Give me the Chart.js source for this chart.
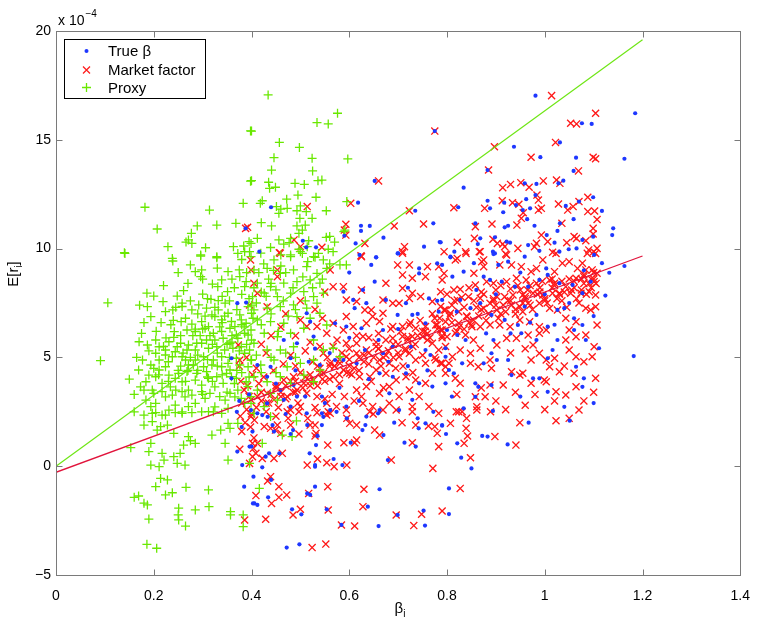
<!DOCTYPE html>
<html>
<head>
<meta charset="utf-8">
<script src="https://cdn.jsdelivr.net/npm/chart.js@4"></script>
<style>
  body { margin: 0; background: #fff; }
</style>
</head>
<body>
<canvas id="scatterChart" width="763" height="626"></canvas>
<script>
// axis ticks (y values are in units of 1e-4)
var xTicks = [0, 0.2, 0.4, 0.6, 0.8, 1, 1.2, 1.4];
var yTicks = [-5, 0, 5, 10, 15, 20];
var legendLabels = ['True \u03b2', 'Market factor', 'Proxy'];

// fitted lines [beta, E[r]]
var proxyFit = [[0, 0], [1.2, 19.6]];
var marketFit = [[0, -0.28], [1.2, 9.66]];

// True beta (blue dots)
var trueBeta = [
  [0.388,10.93],[0.775,15.4],[0.652,13.11],[0.618,12.11],[0.44,11.9],[0.735,11.74],[0.624,11.05],[0.642,11.04],[0.624,10.81],
  [0.772,11.16],[0.613,10.24],[0.753,10.09],[0.785,10.3],[0.505,10.36],[0.512,10.06],[0.532,10.06],[0.655,9.6],[0.7,9.78],[0.59,10.59],
  [0.981,17.03],[1.185,16.22],[1.076,15.76],[1.096,15.73],[1.031,14.88],[0.937,14.68],[0.991,14.2],[1.064,14.18],[1.163,14.13],
  [1.059,13.57],[0.883,13.61],[0.834,12.8],[0.959,13.0],[0.983,12.97],[1.038,13.12],[1.028,13.0],[0.883,12.2],[0.888,11.85],
  [0.917,12.11],[0.941,12.0],[0.962,12.27],[0.981,12.46],[1.099,12.36],[0.823,11.9],[0.915,11.67],[0.955,11.77],[0.97,11.85],
  [1.043,11.96],[1.117,11.73],[1.07,12.16],[0.964,11.35],[1.059,11.35],[0.858,11.16],[0.918,10.98],[0.925,11.05],[0.979,11.05],
  [1.026,10.81],[1.031,11.16],[1.14,10.93],[1.138,10.62],[1.004,10.62],[1.02,10.27],[1.077,10.4],[1.099,10.55],[1.065,10.01],
  [1.049,9.97],[0.868,10.47],[0.863,10.21],[0.898,10.52],[0.894,9.86],[0.895,9.75],[0.922,10.32],[0.929,10.27],[0.966,10.16],
  [0.989,9.9],[0.815,9.86],[0.807,9.6],[0.787,10.29],
  [0.807,9.63],[0.855,9.33],[0.898,9.78],[0.905,9.25],[0.925,9.4],[0.959,9.63],[1.003,9.09],[1.03,9.86],[1.101,9.71],[1.117,9.33],
  [1.132,8.89],[1.163,9.2],[0.79,9.25],[0.811,8.71],[0.834,8.94],[0.875,8.71],[0.888,8.56],[0.912,8.48],[0.939,8.25],[0.966,8.25],
  [0.989,8.56],[1.006,8.79],[1.03,8.41],[1.057,8.33],[1.077,7.95],[1.094,8.48],[1.124,7.84],[0.79,7.64],[0.827,7.64],[0.848,7.26],
  [0.868,7.49],[0.891,6.95],[0.918,6.72],[0.945,6.49],[0.959,7.33],[0.983,6.95],[1.006,6.41],[1.026,7.18],[1.04,7.26],[1.06,6.8],
  [1.077,6.49],[1.06,6.26],[1.084,5.8],[1.111,5.42],[1.182,5.06],[0.8,6.26],[0.797,5.42],[0.821,6.03],[0.838,5.8],[0.831,4.73],
  [0.804,4.42],[0.814,4.27],[0.875,4.73],[0.891,5.19],[0.895,5.8],[0.902,4.88],[0.925,4.88],[0.932,4.19],[0.952,6.11],[0.983,5.8],
  [1.006,4.96],[1.026,5.8],[1.016,5.34],[0.989,4.04],[0.976,4.04],[1.064,4.57],[1.08,4.04],[1.077,3.65],[1.006,3.42],[1.04,2.73],
  [0.891,3.73],[0.858,3.81],[0.858,3.19],[0.864,3.65],[0.834,2.66],
  [0.416,9.86],[0.621,9.71],[0.655,9.6],[0.645,9.25],[0.699,9.78],[0.743,9.09],[0.78,9.32],[0.743,8.86],[0.652,8.48],[0.628,8.1],
  [0.588,8.02],[0.608,7.64],[0.611,7.26],[0.635,7.49],[0.675,7.64],[0.716,7.49],[0.763,7.71],[0.783,7.1],[0.699,6.95],[0.729,6.95],
  [0.756,6.57],[0.669,6.26],[0.625,6.34],[0.594,6.42],[0.571,6.57],[0.52,6.64],[0.513,7.03],[0.527,5.96],[0.493,5.65],[0.466,5.8],
  [0.48,4.96],[0.439,4.57],[0.432,4.11],[0.412,4.65],[0.459,3.5],[0.486,3.73],[0.517,4.8],[0.54,4.65],[0.588,4.88],[0.571,4.88],
  [0.615,4.73],[0.632,5.34],[0.669,5.19],[0.689,5.49],[0.726,5.49],[0.756,5.34],[0.766,5.11],[0.797,5.03],[0.662,4.27],[0.689,4.11],
  [0.716,4.27],[0.743,3.81],[0.77,3.66],[0.682,3.35],[0.702,2.58],[0.662,2.58],[0.635,2.28],[0.594,2.74],[0.561,2.58],[0.544,3.2],
  [0.493,3.2],[0.466,3.05],[0.432,2.89],[0.412,2.43],[0.399,2.58],[0.48,2.74],[0.513,2.43],[0.729,3.05],[0.797,3.81],
  [0.371,0.67],[0.381,0.05],[0.385,-0.94],[0.404,-0.48],[0.4,0.9],[0.403,-1.71],
  [0.472,-3.74],[0.498,-3.59],[0.483,-1.98],[0.502,-2.21],[0.554,-1.98],[0.584,-2.7],[0.638,-1.86],[0.66,-2.75],[0.662,-1.06],
  [0.699,-2.24],[0.752,-2.04],[0.755,-2.73],[0.434,-1.43],[0.406,-1.71],[0.412,-1.78],[0.514,-1.25],[0.52,-1.32],[0.53,-0.94],
  [0.53,0.05],[0.53,-0.02],[0.568,0.33],[0.586,0.05],[0.519,0.59],[0.532,0.97],[0.535,1.39],[0.422,-0.05],[0.44,-0.63],[0.436,0.59],
  [0.429,0.44],[0.457,0.59],[0.679,0.28],[0.713,1.08],[0.736,0.9],[0.603,1.08],[0.633,1.89],[0.627,1.66],[0.692,2.0],[0.74,2.2],
  [0.742,1.74],[0.756,1.97],[0.772,2.5],[0.79,1.89],[0.544,2.43],[0.547,2.27],[0.574,2.5],[0.595,2.2],[0.48,1.48],[0.485,1.66],
  [0.514,1.89],[0.544,1.89],[0.659,2.43],[0.67,1.43],[0.396,0.9],[0.402,1.59],[0.422,2.35],[0.433,2.27],[0.443,1.89],[0.446,1.59],
  [0.894,2.54],[0.967,2.0],[1.051,2.09],[0.79,1.86],[0.798,1.48],[0.821,1.05],[0.829,0.39],[0.85,-0.1],[0.872,1.39],[0.883,1.36],
  [0.924,1.0],[0.804,-1.02],[0.804,-2.2],
  [0.359,4.04],[0.359,4.96],[0.371,7.49],[0.389,7.52],[0.37,2.5],[0.38,1.8],[0.395,3.3],[0.375,3.0],
  [0.45,3.8],[0.47,2.4],[0.49,4.4],[0.51,3.2],[0.53,5.4],[0.55,2.9],[0.56,5.2],[0.58,3.6],[0.6,5.9],[0.62,3.0],[0.64,4.0],[0.66,5.8],
  [0.68,4.8],[0.7,6.3],[0.72,4.6],[0.74,7.0],[0.76,4.4],[0.78,7.6],[0.82,7.1],[0.86,8.1],[0.88,6.1],[0.9,7.9],[0.93,6.1],[0.95,8.9],
  [0.97,6.6],[1.0,7.9],[1.02,6.5],[1.05,7.5],[1.08,9.0],[1.1,6.9],[0.6,8.9],[0.67,10.5],[0.72,8.2],[0.81,3.2],[0.95,3.2],[1.1,2.9]
];

// Market factor (red crosses)
var marketFactor = [
  [0.388,10.93],[0.775,15.4],[0.66,13.11],[0.603,12.08],[0.723,11.74],[0.752,11.13],[0.692,11.04],[0.593,11.12],[0.593,10.62],
  [0.59,10.85],[0.632,10.24],[0.514,11.93],[0.713,10.09],[0.709,9.86],[0.624,9.67],[0.794,9.86],[0.487,10.4],[0.5,10.09],[0.544,10.06],
  [0.457,9.81],[0.392,10.98],
  [1.014,17.03],[1.104,16.22],[1.053,15.76],[1.065,15.73],[1.022,14.88],[0.897,14.68],[0.972,14.2],[1.099,14.2],[1.104,14.13],
  [0.885,13.61],[1.069,13.57],[0.914,12.8],[0.93,12.95],[0.951,13.03],[0.968,12.82],[0.997,13.11],[1.024,13.15],[1.031,13.0],
  [0.984,12.46],[0.987,12.23],[0.814,11.88],[0.877,11.85],[0.913,12.2],[0.934,12.11],[0.947,12.04],[0.987,11.77],[0.993,11.85],
  [1.028,12.05],[1.047,11.77],[1.058,11.93],[1.07,12.16],[1.088,12.36],[1.088,11.7],[1.102,11.73],[0.956,11.65],[0.952,11.39],
  [0.943,11.08],[1.107,11.34],[0.892,11.13],[0.858,11.01],[1.035,11.16],[1.099,10.93],[1.099,10.67],[0.856,10.47],[0.821,10.29],
  [0.839,9.78],[0.866,9.86],[0.894,10.43],[0.903,10.24],[0.914,10.21],[0.918,10.09],[0.92,9.75],[0.945,10.01],[0.993,10.62],
  [0.983,10.24],[0.979,10.09],[1.006,10.32],[1.016,9.83],[1.045,10.27],[1.06,10.55],[1.065,10.47],[1.084,10.36],[1.09,9.94],
  [1.1,9.86],[1.107,10.01],[0.875,9.48],[0.821,9.55],
  [0.817,9.48],[0.838,9.86],[0.868,9.86],[0.855,8.87],[0.871,9.4],[0.875,9.17],[0.908,9.25],[0.922,9.71],[0.932,9.25],[0.952,9.17],
  [0.972,8.94],[0.983,9.09],[0.996,9.48],[1.02,8.94],[1.023,9.78],[1.036,9.33],[1.05,9.4],[1.067,9.09],[1.077,9.33],[1.084,9.02],
  [1.097,9.02],[1.104,9.78],[1.107,8.87],[1.087,9.78],
  [0.794,8.86],[0.787,8.02],[0.814,8.1],[0.827,8.13],[0.858,8.33],[0.881,8.48],[0.895,8.41],[0.922,8.48],[0.942,8.64],[0.962,8.56],
  [0.983,8.41],[1.01,8.56],[1.02,8.41],[1.043,8.25],[1.064,8.64],[1.08,8.71],[1.101,8.48],[1.091,8.02],[1.104,7.87],[1.074,7.95],
  [1.053,7.95],[1.03,7.95],[1.016,7.95],[0.996,7.87],[0.976,7.95],[0.955,7.87],[0.935,7.87],[0.918,7.79],[0.902,7.79],[0.868,7.72],
  [0.844,7.79],[0.821,7.64],
  [0.794,7.18],[0.807,7.03],[0.824,7.1],[0.841,6.87],[0.854,6.72],[0.875,7.26],[0.888,7.49],[0.902,7.18],[0.915,7.41],[0.932,7.41],
  [0.949,7.33],[0.966,7.49],[0.989,7.49],[1.01,7.26],[1.026,7.18],[1.043,6.8],[1.064,6.64],[1.084,7.26],[1.094,7.18],[1.104,7.33],
  [1.107,6.49],[1.05,6.26],[0.989,6.41],[0.969,6.64],[0.949,6.72],[0.929,6.41],[0.908,6.49],[0.888,6.49],[0.868,6.41],[0.851,6.41],
  [0.824,6.57],[0.797,6.64],[0.787,6.26],
  [0.8,7.9],[0.81,7.4],[0.83,7.75],[0.845,8.2],[0.86,7.3],[0.87,8.0],[0.9,8.1],[0.93,8.15],[0.95,8.1],[0.97,8.3],[0.99,8.2],[1.0,7.7],
  [1.04,8.0],[1.06,8.5],[1.08,8.4],[1.095,8.6],[1.1,8.9],[0.92,7.1],[0.96,7.7],[1.035,7.6],[1.07,7.5],
  [0.8,5.95],[0.817,6.11],[0.838,6.03],[0.854,5.8],[0.868,5.42],[0.848,5.19],[0.827,5.34],[0.811,5.03],[0.787,4.73],[0.804,4.73],
  [0.797,4.27],[0.817,4.04],[0.827,3.81],[0.848,4.73],[0.864,4.57],[0.888,4.88],[0.891,4.5],[0.902,5.57],[0.922,5.88],[0.942,5.88],
  [0.966,6.03],[0.989,6.11],[1.003,6.26],[0.976,5.57],[0.989,5.19],[0.972,4.88],[1.003,4.88],[1.02,4.96],[1.01,4.57],[1.043,5.8],
  [1.064,5.95],[1.084,6.03],[1.101,5.49],[1.097,5.03],[1.064,5.03],[1.05,5.34],[1.03,4.34],[1.06,4.27],[1.104,4.04],[0.955,4.27],
  [0.932,4.34],[0.949,4.19],[0.915,3.73],[0.888,3.73],[0.878,3.19],[0.858,3.19],[0.861,2.73],[0.824,2.5],[0.972,3.81],[0.999,3.96],
  [1.003,3.88],[1.023,3.42],[1.043,3.27],[1.064,3.65],
  [0.459,9.79],[0.453,9.02],[0.625,9.63],[0.709,9.79],[0.699,9.25],[0.723,9.25],[0.76,9.17],[0.709,8.79],[0.729,8.64],[0.756,8.71],
  [0.783,9.17],[0.79,8.56],[0.709,8.18],[0.675,8.41],[0.625,8.1],[0.588,8.25],[0.567,8.25],[0.561,9.02],[0.594,7.64],[0.615,7.57],
  [0.632,7.18],[0.645,7.18],[0.669,7.64],[0.689,7.49],[0.702,7.49],[0.723,7.71],[0.729,7.95],[0.746,7.8],[0.77,7.57],[0.787,7.34],
  [0.797,7.18],[0.669,7.03],[0.648,6.88],[0.635,6.57],[0.662,6.65],[0.689,6.42],[0.709,6.42],[0.723,6.49],[0.736,6.34],[0.756,6.42],
  [0.777,6.49],[0.79,6.26],[0.689,5.88],[0.709,5.96],[0.729,5.96],[0.75,5.96],[0.77,5.65],[0.783,5.34],[0.797,5.5],[0.675,5.8],
  [0.655,5.5],[0.635,5.34],[0.615,5.19],[0.594,5.03],[0.581,4.73],[0.561,4.73],[0.547,5.19],[0.567,5.5],[0.594,5.65],[0.615,5.65],
  [0.628,5.96],[0.554,6.11],[0.534,6.42],[0.513,6.42],[0.5,6.72],[0.594,6.88],[0.608,6.42],[0.588,6.26],[0.567,6.57],[0.662,4.88],
  [0.682,4.73],[0.702,5.03],[0.723,5.19],[0.736,4.88],[0.756,4.73],[0.777,4.88],[0.79,4.73],[0.675,4.27],[0.696,3.96],[0.716,4.11],
  [0.736,3.96],[0.756,3.81],[0.77,4.27],[0.797,4.57],[0.655,4.42],[0.642,4.11],[0.621,4.11],[0.601,4.27],[0.588,4.42],[0.567,4.11],
  [0.547,4.27],[0.527,3.96],[0.507,3.81],[0.486,4.11],[0.466,3.96],[0.453,3.65],[0.432,3.35],[0.412,3.2],[0.399,3.05],[0.446,3.05],
  [0.473,3.2],[0.493,3.5],[0.513,3.35],[0.534,3.2],[0.554,2.89],[0.574,2.74],[0.594,2.58],[0.561,2.43],[0.615,3.5],[0.635,3.66],
  [0.662,3.35],[0.682,3.66],[0.702,3.2],[0.723,3.5],[0.743,3.2],[0.763,2.74],[0.783,2.43],[0.729,2.74],[0.696,2.58],[0.669,2.58],
  [0.648,2.74],[0.628,2.89],[0.682,2.89],[0.5,2.74],[0.48,2.58],[0.399,9.02],[0.412,7.95],[0.432,7.33],[0.405,8.41],[0.453,8.71],
  [0.399,2.28],
  [0.42,3.0],[0.44,3.3],[0.46,3.4],[0.47,3.7],[0.49,3.9],[0.5,4.3],[0.52,4.2],[0.54,4.5],[0.56,4.6],[0.58,4.9],[0.6,4.6],[0.62,5.0],
  [0.64,5.2],[0.66,5.4],[0.68,5.3],[0.7,5.6],[0.72,5.8],[0.74,6.0],[0.76,6.1],[0.78,6.3],[0.41,2.7],[0.43,2.5],[0.45,2.3],
  [0.41,4.5],[0.415,3.8],[0.425,4.1],[0.43,5.2],[0.435,2.9],[0.445,4.4],[0.45,3.6],[0.455,2.7],[0.465,4.7],[0.47,3.1],[0.475,2.2],
  [0.48,5.1],[0.485,3.4],[0.49,4.6],[0.495,2.9],[0.505,3.6],[0.51,5.3],[0.515,2.2],[0.52,3.9],[0.525,4.8],[0.53,2.7],[0.535,3.7],
  [0.54,5.5],[0.545,4.0],[0.55,3.1],[0.555,5.0],[0.56,4.0],[0.565,3.3],[0.57,4.6],[0.575,5.8],[0.58,3.8],[0.585,5.2],[0.59,3.2],
  [0.6,5.4],[0.605,4.2],[0.61,3.0],[0.615,6.0],[0.62,4.4],[0.625,3.2],[0.63,4.8],[0.64,5.9],[0.645,3.9],[0.65,5.0],[0.66,6.1],
  [0.665,4.6],[0.67,3.6],[0.675,5.1],[0.685,6.3],[0.69,5.0],[0.695,4.5],[0.705,6.2],[0.71,4.6],[0.715,5.4],[0.725,6.6],[0.73,4.3],
  [0.735,5.6],[0.745,6.7],[0.75,5.1],[0.755,6.2],[0.765,5.9],[0.77,7.0],[0.775,5.0],[0.785,6.8],[0.79,5.9],
  [0.42,5.6],[0.44,6.0],[0.46,6.4],[0.47,7.0],[0.49,6.0],[0.5,7.6],[0.52,5.7],[0.53,7.2],[0.545,6.8],[0.55,8.0],
  [0.805,6.9],[0.815,7.6],[0.825,6.4],[0.835,7.3],[0.845,6.6],[0.855,7.6],[0.865,6.9],[0.875,7.9],[0.885,7.0],[0.895,7.7],
  [0.905,6.8],[0.91,8.3],[0.925,7.6],[0.94,7.0],[0.945,8.3],[0.955,7.5],[0.965,8.1],[0.975,7.2],[0.985,7.9],[0.995,8.5],[1.005,7.5],
  [1.015,8.2],[1.025,7.7],[1.035,8.5],[1.045,7.3],[1.055,8.1],[1.065,7.7],[1.075,8.6],[1.085,7.9],[1.095,8.2],[1.105,8.4],
  [0.82,3.3],[0.84,2.2],[0.87,3.6],[0.9,3.0],[0.92,2.6],[0.94,3.4],[0.96,2.8],[0.98,3.3],[1.0,2.6],[1.02,3.0],[1.05,2.2],[1.08,3.0],
  [1.1,3.4],[0.93,5.2],[0.96,5.4],[1.04,4.6],[1.08,4.8],
  [0.42,3.4],[0.43,2.9],[0.45,3.7],[0.46,3.2],[0.48,3.9],[0.49,3.4],[0.51,4.1],[0.52,3.7],[0.54,4.3],[0.55,3.9],[0.57,4.6],[0.58,4.2],
  [0.6,4.9],[0.61,4.5],[0.63,5.1],[0.64,4.7],[0.66,5.4],[0.67,5.0],[0.69,5.6],[0.7,5.2],[0.72,5.9],[0.73,5.5],[0.75,6.2],[0.76,5.8],
  [0.78,6.5],[0.79,6.0],[0.81,6.6],[0.82,6.2],[0.84,6.9],[0.85,6.5],[0.87,7.2],[0.88,6.7],[0.9,7.4],[0.91,7.0],[0.93,7.6],[0.94,7.2],
  [0.96,7.8],[0.97,7.4],[0.99,8.0],[1.0,7.6],[1.02,8.3],[1.03,7.9],[1.05,8.6],[1.06,8.2],[1.08,8.8],[1.09,8.4],[1.1,8.6],
  [0.535,4.6],[0.595,4.3],[0.655,5.7],[0.715,5.3],[0.775,6.8],[0.835,6.3],[0.895,7.6],[0.955,7.1],[1.015,8.6],[1.075,8.1],
  [0.404,0.82],[0.409,0.59],[0.402,1.05],[0.439,-0.48],[0.433,-0.68],[0.456,-0.94],[0.409,-1.35],[0.441,-1.71],[0.456,-1.43],
  [0.472,-1.32],[0.429,-2.44],[0.517,-1.25],[0.556,-0.94],[0.485,-2.24],[0.5,-1.98],[0.557,-2.01],[0.524,-3.74],[0.552,-3.58],
  [0.584,-2.7],[0.611,-2.75],[0.628,-1.86],[0.63,-1.06],[0.696,-2.24],[0.748,-2.21],[0.732,-2.73],[0.79,-2.06],[0.771,-0.1],
  [0.686,0.28],[0.595,0.05],[0.569,-0.02],[0.554,0.16],[0.535,0.33],[0.514,0.05],[0.463,0.59],[0.446,0.36],[0.556,0.97],[0.589,1.08],
  [0.611,1.08],[0.615,1.2],[0.53,1.39],[0.532,1.51],[0.729,1.08],[0.783,0.9],[0.497,1.48],[0.652,1.66],[0.662,1.43],[0.708,2.0],
  [0.736,1.89],[0.762,1.85],[0.775,1.82],[0.78,1.51],[0.595,2.2],[0.601,1.97],[0.615,1.89],[0.52,1.89],[0.53,1.89],[0.473,2.5],
  [0.497,2.5],[0.534,2.46],[0.554,2.35],[0.557,2.5],[0.642,2.5],[0.649,2.4],[0.729,2.5],[0.406,2.12],[0.426,1.82],[0.439,1.74],
  [0.449,1.66],[0.453,1.89],[0.46,1.51],[0.48,1.89],[0.412,1.05],[0.402,0.44],[0.422,0.36],
  [0.819,2.5],[0.831,2.5],[0.861,2.58],[0.889,2.5],[1.07,2.58],[0.807,1.97],[0.839,1.74],[0.842,1.39],[0.835,1.05],[0.898,1.36],
  [0.941,0.97],[0.949,2.0],[1.023,2.09],[0.848,0.39],[0.827,-1.02],
  [0.376,0.78],[0.396,0.13],[0.386,-2.47],
  [0.378,3.9],[0.385,3.5],[0.395,3.2],[0.38,2.9],[0.39,2.6],[0.4,2.4],[0.377,2.3],[0.387,2.0],[0.398,1.8],[0.38,1.6],[0.405,1.3],
  [0.392,3.7],[0.402,4.2],[0.375,4.6],[0.39,5.0],[0.398,9.48],[0.396,7.41],[0.373,5.57],[0.376,4.88]
];

// Proxy (green plus signs)
var proxy = [
  [0.398,15.41],[0.398,13.1],[0.182,11.9],[0.383,12.08],[0.314,11.77],[0.207,10.9],[0.289,11.04],[0.329,11.08],[0.368,11.16],
  [0.277,10.7],[0.271,10.4],[0.266,10.3],[0.278,10.24],[0.229,10.09],[0.306,10.04],[0.14,9.81],[0.363,10.09],[0.384,10.12],
  [0.372,9.78],[0.395,10.32],[0.386,9.86],[0.296,9.71],[0.329,9.63],[0.238,9.55],
  [0.434,17.06],[0.576,16.22],[0.534,15.79],[0.557,15.73],[0.4,15.4],[0.457,14.88],[0.498,14.65],[0.446,14.18],[0.524,14.15],
  [0.597,14.12],[0.441,13.61],[0.525,13.57],[0.4,13.12],[0.435,13.05],[0.437,12.77],[0.449,12.82],[0.489,13.0],[0.508,12.95],
  [0.536,13.12],[0.544,13.15],[0.495,12.46],[0.532,12.36],[0.472,12.27],[0.422,12.2],[0.418,12.08],[0.595,12.16],[0.451,11.93],
  [0.46,11.81],[0.473,11.85],[0.456,11.62],[0.5,11.96],[0.493,11.74],[0.512,11.7],[0.553,11.74],[0.499,11.39],[0.524,11.39],
  [0.42,11.19],[0.441,11.04],[0.493,11.04],[0.504,10.85],[0.497,10.7],[0.51,11.08],[0.56,10.56],[0.553,10.52],[0.589,10.78],
  [0.591,10.85],[0.412,10.47],[0.456,10.4],[0.466,10.21],[0.477,10.27],[0.48,10.47],[0.517,10.36],[0.514,10.09],[0.399,10.24],
  [0.396,9.86],[0.439,10.05],[0.497,9.97],[0.504,9.78],[0.537,9.78],[0.557,9.97],[0.46,9.71],[0.48,9.63],
  [0.141,9.78],[0.239,9.43],[0.296,9.66],[0.329,9.58],[0.275,9.25],[0.298,9.02],[0.296,8.71],[0.285,8.94],[0.352,8.94],[0.375,9.02],
  [0.376,8.71],[0.339,8.56],[0.32,8.37],[0.331,8.25],[0.389,8.48],[0.386,8.25],[0.106,7.51],[0.186,7.95],[0.2,7.82],[0.248,7.82],
  [0.261,8.07],[0.258,7.49],[0.219,7.56],[0.3,7.91],[0.317,7.67],[0.332,7.61],[0.346,7.49],[0.351,8.02],[0.171,7.4],[0.187,7.33],
  [0.194,6.87],[0.224,7.1],[0.239,7.18],[0.256,6.64],[0.278,6.53],[0.298,6.64],[0.312,6.41],[0.319,6.95],[0.332,7.18],[0.352,7.03],
  [0.379,6.72],[0.366,6.41],[0.393,7.33],[0.4,7.03],[0.242,6.18],[0.241,5.92],[0.17,5.72],[0.187,5.57],[0.204,5.8],[0.211,5.49],
  [0.231,5.72],[0.224,5.34],[0.248,5.49],[0.271,5.57],[0.285,5.34],[0.298,5.65],[0.312,5.42],[0.325,5.8],[0.342,5.88],[0.356,5.65],
  [0.372,5.88],[0.393,6.03],[0.091,4.85],[0.169,4.42],[0.194,4.65],[0.211,4.88],[0.224,4.57],[0.238,5.03],[0.258,5.03],[0.271,4.65],
  [0.285,4.88],[0.302,5.03],[0.319,4.65],[0.339,5.03],[0.352,4.73],[0.369,4.96],[0.386,5.19],[0.4,4.88],[0.173,3.65],[0.184,3.88],
  [0.197,3.5],[0.204,4.11],[0.217,3.81],[0.234,3.65],[0.244,4.04],[0.258,3.88],[0.271,3.5],[0.285,3.96],[0.298,3.73],[0.312,4.04],
  [0.325,3.65],[0.342,3.81],[0.359,4.11],[0.372,3.5],[0.389,3.88],[0.184,3.04],[0.204,2.89],[0.224,3.19],[0.244,2.81],[0.264,3.19],
  [0.285,2.89],[0.305,3.12],[0.325,2.73],[0.346,3.04],[0.366,3.19],[0.386,2.89],[0.197,2.43],[0.217,2.35],[0.258,2.43],[0.298,2.5],
  [0.339,2.43],
  [0.258,7.34],[0.278,7.18],[0.292,7.41],[0.308,7.26],[0.325,6.88],[0.339,6.72],[0.359,6.65],[0.376,6.95],[0.389,6.57],[0.403,6.8],
  [0.268,6.26],[0.285,6.19],[0.305,6.34],[0.322,6.11],[0.339,6.19],[0.356,6.34],[0.369,6.03],[0.386,6.11],[0.4,5.8],[0.255,5.65],
  [0.268,5.34],[0.288,5.65],[0.308,5.8],[0.329,5.49],[0.345,5.34],[0.362,5.42],[0.379,5.49],[0.396,5.34],[0.204,5.19],[0.224,5.11],
  [0.244,5.26],[0.265,4.88],[0.281,4.65],[0.302,4.57],[0.322,4.88],[0.339,4.57],[0.356,4.42],[0.376,4.65],[0.393,4.57],[0.177,4.88],
  [0.19,4.19],[0.211,4.42],[0.231,4.19],[0.251,4.27],[0.268,4.35],[0.288,4.27],[0.308,4.35],[0.329,4.11],[0.349,4.27],[0.369,4.04],
  [0.393,3.66],[0.18,3.5],[0.2,3.35],[0.217,3.43],[0.238,3.27],[0.258,3.43],[0.278,3.27],[0.298,3.43],[0.315,3.35],[0.335,3.2],
  [0.356,3.35],[0.379,3.12],[0.399,3.2],[0.194,2.74],[0.231,2.58],[0.271,2.74],[0.312,2.51],[0.352,2.66],
  [0.205,6.2],[0.215,6.6],[0.225,5.9],[0.235,6.5],[0.245,7.3],[0.255,6.0],[0.265,6.8],[0.275,7.6],[0.285,6.3],[0.29,7.0],[0.295,6.0],
  [0.305,6.9],[0.31,7.7],[0.315,6.0],[0.325,7.3],[0.335,6.4],[0.34,7.8],[0.345,6.9],[0.355,7.6],[0.36,6.0],[0.365,8.2],[0.37,7.2],
  [0.38,7.9],[0.385,6.4],[0.39,8.9],[0.395,7.7],[0.405,8.2],[0.41,7.5],[0.415,8.9],[0.42,6.5],[0.425,9.3],[0.43,7.8],[0.435,8.6],
  [0.44,7.0],[0.445,9.0],[0.45,8.1],[0.455,6.2],[0.465,7.6],[0.47,8.9],[0.475,6.9],[0.485,8.2],[0.49,7.2],[0.505,8.7],[0.51,7.6],
  [0.515,9.4],[0.525,8.2],[0.53,9.6],[0.545,8.6],[0.56,9.3],[0.57,10.3],
  [0.21,4.2],[0.23,4.8],[0.245,3.5],[0.255,4.6],[0.265,3.9],[0.275,5.0],[0.29,4.4],[0.3,3.3],[0.31,4.9],[0.32,3.9],[0.33,5.2],
  [0.34,4.2],[0.35,3.4],[0.355,5.0],[0.365,3.8],[0.375,5.3],[0.38,4.3],[0.395,4.1],[0.41,5.1],[0.42,4.3],[0.44,5.0],[0.45,4.3],
  [0.47,5.2],[0.49,5.0],[0.15,4.0],[0.16,3.3],[0.165,5.0],[0.175,6.1],[0.18,6.6],[0.19,5.3],
  [0.22,5.5],[0.24,6.7],[0.26,5.2],[0.28,6.0],[0.3,6.3],[0.32,5.6],[0.34,6.6],[0.36,5.7],[0.38,6.5],[0.4,7.4],[0.27,4.4],[0.29,5.1],
  [0.31,4.1],[0.33,4.6],[0.35,5.6],[0.37,4.4],[0.39,5.6],[0.23,3.9],[0.25,4.4],[0.2,4.5],[0.36,8.6],[0.42,8.0],[0.44,8.4],[0.46,9.2],
  [0.38,9.5],[0.3,8.6],[0.27,8.4],[0.33,9.1],[0.22,8.3],[0.25,8.9],
  [0.16,2.5],[0.18,2.35],[0.204,2.46],[0.224,2.35],[0.244,2.46],[0.258,2.5],[0.278,2.46],[0.322,2.5],[0.18,1.89],[0.197,2.05],
  [0.214,1.82],[0.228,1.89],[0.241,1.51],[0.207,1.66],[0.319,1.43],[0.337,1.66],[0.352,1.97],[0.372,1.97],[0.356,1.74],[0.271,1.36],
  [0.285,1.05],[0.261,0.97],[0.275,1.17],[0.346,1.05],[0.153,0.85],[0.194,1.05],[0.19,0.67],[0.217,0.59],[0.221,0.28],[0.211,-0.02],
  [0.241,0.44],[0.248,0.13],[0.254,0.59],[0.264,0.05],[0.352,0.28],[0.194,0.05],[0.214,-0.56],[0.228,-0.63],[0.204,-0.94],
  [0.224,-1.32],[0.238,-1.22],[0.266,-0.97],[0.312,-1.09],[0.16,-1.43],[0.169,-1.37],[0.18,-1.7],[0.187,-1.78],[0.251,-1.93],
  [0.25,-2.24],[0.251,-2.47],[0.265,-2.75],[0.285,-2.01],[0.313,-1.86],[0.357,-2.09],[0.357,-2.24],[0.383,-2.24],[0.383,-2.78],
  [0.19,-2.43],[0.186,-3.59],[0.206,-3.77],
  [0.492,2.08],[0.463,1.43],[0.483,1.36],[0.422,1.05],[0.416,-1.02],[0.396,0.13],
  [0.399,9.63],[0.419,9.79],[0.446,9.48],[0.48,9.71],[0.5,9.86],[0.527,9.63],[0.547,9.48],[0.567,9.86],[0.405,9.02],[0.432,9.09],
  [0.459,8.86],[0.486,9.02],[0.513,9.17],[0.534,8.86],[0.554,9.09],[0.581,9.25],[0.594,9.25],[0.412,8.41],[0.439,8.25],[0.466,8.41],
  [0.493,8.48],[0.52,8.56],[0.54,8.41],[0.402,7.79],[0.426,7.95],[0.453,7.79],[0.48,7.95],[0.507,8.02],[0.527,7.79],[0.547,7.95],
  [0.405,7.18],[0.432,7.26],[0.459,7.33],[0.486,7.41],[0.513,7.26],[0.534,7.49],[0.412,6.72],[0.439,6.64],[0.466,6.57],[0.493,6.87],
  [0.52,6.8],[0.54,7.03],[0.399,6.26],[0.426,6.11],[0.453,5.95],[0.48,6.11],[0.507,6.34],[0.527,5.8],[0.554,6.49],[0.405,5.65],
  [0.432,5.34],[0.459,5.34],[0.486,5.49],[0.547,5.34],[0.567,5.42],[0.581,5.03],[0.399,4.88],[0.419,4.65],[0.446,4.88],[0.473,4.57],
  [0.5,4.73],[0.527,4.88],[0.54,4.42],[0.405,4.11],[0.432,3.88],[0.459,4.11],[0.48,3.81],[0.507,4.19],[0.527,3.88],[0.412,3.5],
  [0.439,3.35],[0.399,2.89],[0.426,2.74],[0.453,3.04],[0.405,2.43],[0.439,2.28]
];

function toPoints(arr) {
  return arr.map(function (p) { return { x: p[0], y: p[1] }; });
}

var uiFont = '"Liberation Sans", Arial, Helvetica, sans-serif';

// text with a subscript, centred on cx
function drawSubText(ctx, main, sub, tail, cx, baseline) {
  ctx.font = '15px ' + uiFont;
  var w1 = ctx.measureText(main).width;
  var w3 = ctx.measureText(tail).width;
  ctx.font = '10px ' + uiFont;
  var w2 = ctx.measureText(sub).width;
  var x0 = cx - (w1 + w2 + w3) / 2;
  ctx.textAlign = 'left';
  ctx.textBaseline = 'alphabetic';
  ctx.font = '15px ' + uiFont;
  ctx.fillText(main, x0, baseline);
  ctx.font = '10px ' + uiFont;
  ctx.fillText(sub, x0 + w1, baseline + 4);
  ctx.font = '15px ' + uiFont;
  ctx.fillText(tail, x0 + w1 + w2, baseline);
}

// matlab style box, inward ticks, labels and legend
var matlabAxes = {
  id: 'matlabAxes',
  afterDraw: function (chart) {
    var ctx = chart.ctx;
    var a = chart.chartArea;
    var xs = chart.scales.x;
    var ys = chart.scales.y;
    ctx.save();

    ctx.strokeStyle = '#7a7a7a';
    ctx.lineWidth = 1;
    var l = Math.round(a.left) + 0.5, t = Math.round(a.top) + 0.5;
    var r = Math.round(a.right) + 0.5, b = Math.round(a.bottom) + 0.5;
    ctx.strokeRect(l, t, r - l, b - t);
    ctx.beginPath();
    xTicks.forEach(function (v) {
      var px = Math.round(xs.getPixelForValue(v)) + 0.5;
      ctx.moveTo(px, b); ctx.lineTo(px, b - 6);
      ctx.moveTo(px, t); ctx.lineTo(px, t + 6);
    });
    yTicks.forEach(function (v) {
      var py = Math.round(ys.getPixelForValue(v)) + 0.5;
      ctx.moveTo(l, py); ctx.lineTo(l + 6, py);
      ctx.moveTo(r, py); ctx.lineTo(r - 6, py);
    });
    ctx.stroke();

    // exponent label
    ctx.fillStyle = '#000';
    ctx.textAlign = 'left';
    ctx.textBaseline = 'alphabetic';
    ctx.font = '14px ' + uiFont;
    ctx.fillText('x 10', 58, 25);
    var ew = ctx.measureText('x 10').width;
    ctx.font = '10px ' + uiFont;
    ctx.fillText('\u22124', 58 + ew + 1, 17);

    // axis titles
    ctx.save();
    ctx.translate(18, 274);
    ctx.rotate(-Math.PI / 2);
    drawSubText(ctx, 'E[r', 'i', ']', 0, 0);
    ctx.restore();
    drawSubText(ctx, '\u03b2', 'i', '', 400, 613);

    // legend box
    ctx.fillStyle = '#fff';
    ctx.fillRect(64, 39, 141, 59);
    ctx.strokeStyle = '#000';
    ctx.strokeRect(64.5, 39.5, 141, 59);
    var rows = [51, 70, 87.5];
    var bases = [56, 75, 93];
    // blue dot
    ctx.fillStyle = 'rgb(30,55,255)';
    ctx.beginPath();
    ctx.arc(86.5, rows[0], 2, 0, Math.PI * 2);
    ctx.fill();
    // red x
    ctx.strokeStyle = 'rgb(255,30,30)';
    ctx.lineWidth = 1.3;
    ctx.beginPath();
    ctx.moveTo(83, rows[1] - 3.5); ctx.lineTo(90, rows[1] + 3.5);
    ctx.moveTo(90, rows[1] - 3.5); ctx.lineTo(83, rows[1] + 3.5);
    ctx.stroke();
    // green plus
    ctx.strokeStyle = 'rgb(105,232,0)';
    ctx.lineWidth = 1.3;
    ctx.beginPath();
    ctx.moveTo(82, rows[2]); ctx.lineTo(91, rows[2]);
    ctx.moveTo(86.5, rows[2] - 4.5); ctx.lineTo(86.5, rows[2] + 4.5);
    ctx.stroke();
    ctx.fillStyle = '#000';
    ctx.font = '15px ' + uiFont;
    legendLabels.forEach(function (txt, i) {
      ctx.fillText(txt, 108, bases[i]);
    });

    ctx.restore();
  }
};

function createChart() {
  var canvas = document.getElementById('scatterChart');
  new Chart(canvas, {
    type: 'scatter',
    data: {
      datasets: [
        {
          type: 'line',
          label: 'Proxy fit',
          data: toPoints(proxyFit),
          borderColor: 'rgb(110,230,20)',
          borderWidth: 1.2,
          pointRadius: 0,
          fill: false,
          order: 0
        },
        {
          type: 'line',
          label: 'Market fit',
          data: toPoints(marketFit),
          borderColor: 'rgb(225,20,60)',
          borderWidth: 1.3,
          pointRadius: 0,
          fill: false,
          order: 0
        },
        {
          label: legendLabels[0],
          data: toPoints(trueBeta),
          pointStyle: 'circle',
          pointRadius: 2.1,
          backgroundColor: 'rgb(30,55,255)',
          borderWidth: 0,
          order: 1
        },
        {
          label: legendLabels[1],
          data: toPoints(marketFactor),
          pointStyle: 'crossRot',
          pointRadius: 5,
          borderColor: 'rgb(255,25,25)',
          borderWidth: 1.35,
          order: 3
        },
        {
          label: legendLabels[2],
          data: toPoints(proxy),
          pointStyle: 'cross',
          pointRadius: 4.5,
          borderColor: 'rgb(105,232,0)',
          borderWidth: 1.3,
          order: 2
        }
      ]
    },
    options: {
      responsive: false,
      animation: false,
      events: [],
      layout: { padding: { left: 0, right: 15, top: 31, bottom: 0 } },
      plugins: {
        legend: { display: false },
        tooltip: { enabled: false }
      },
      scales: {
        x: {
          type: 'linear',
          min: 0,
          max: 1.4,
          grid: { display: false, drawTicks: false },
          border: { display: false },
          afterBuildTicks: function (axis) {
            axis.ticks = xTicks.map(function (v) { return { value: v }; });
          },
          afterFit: function (axis) { axis.height = 51; },
          ticks: {
            autoSkip: false,
            maxRotation: 0,
            padding: 13,
            color: '#000',
            font: { family: uiFont, size: 14 },
            callback: function (v) { return String(v); }
          }
        },
        y: {
          type: 'linear',
          min: -5,
          max: 20,
          grid: { display: false, drawTicks: false },
          border: { display: false },
          afterBuildTicks: function (axis) {
            axis.ticks = yTicks.map(function (v) { return { value: v }; });
          },
          afterFit: function (axis) { axis.width = 56; },
          ticks: {
            padding: 5,
            color: '#000',
            font: { family: uiFont, size: 14 },
            callback: function (v) { return String(v).replace('-', '\u2212'); }
          }
        }
      }
    },
    plugins: [matlabAxes]
  });
}

window.onload = function () {
  createChart();
};
</script>
</body>
</html>
